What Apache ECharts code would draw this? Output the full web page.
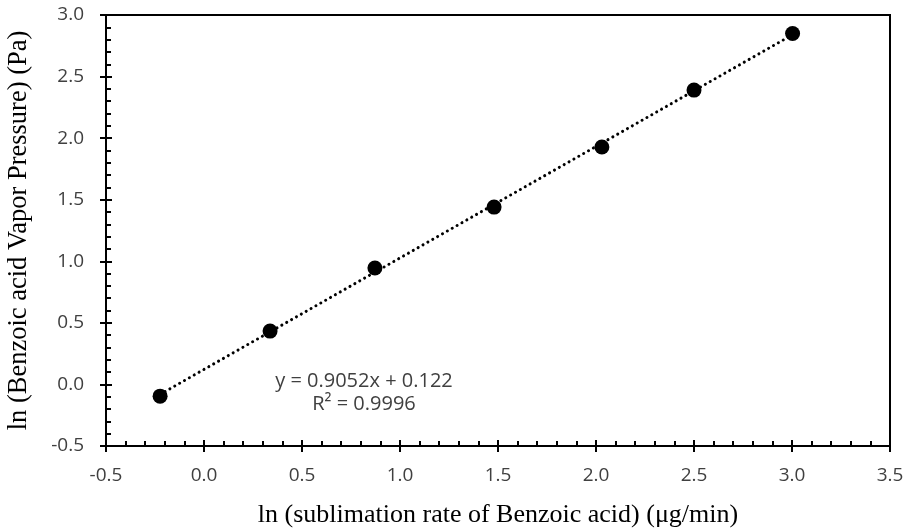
<!DOCTYPE html>
<html><head><meta charset="utf-8">
<script src="https://cdn.jsdelivr.net/npm/echarts@6/dist/echarts.min.js"></script>
<style>html,body{margin:0;padding:0;background:#fff}#c{width:907px;height:530px}</style>
</head><body><div id="c"></div>
<script>
var xValues = [-0.224, 0.337, 0.872, 1.48, 2.03, 2.50, 3.003];
var yValues = [-0.095, 0.433, 0.945, 1.44, 1.928, 2.39, 2.85];
var slope = 0.9052, intercept = 0.122;
var equationText = 'y = 0.9052x + 0.122';
var r2Text = 'R² = 0.9996';
var xTitle = 'ln (sublimation rate of Benzoic acid) (μg/min)';
var yTitle = 'ln (Benzoic acid Vapor Pressure) (Pa)';

var pts = xValues.map(function(x,i){return [x, yValues[i]];});
var xMin = Math.min.apply(null, xValues), xMax = Math.max.apply(null, xValues);
var trend = [[xMin, slope*xMin+intercept],[xMax, slope*xMax+intercept]];

function axisBase(extra){
  var o = {splitLine:{show:false},
    axisLine:{show:true, onZero:false, lineStyle:{color:'#000', width:2}}};
  for (var k in extra) o[k]=extra[k];
  return o;
}
var lbl = {formatter:function(v){return v.toFixed(1);}, fontFamily:'Open Sans', fontSize:19, color:'#404040'};
function L(m){var o={}; for (var k in lbl) o[k]=lbl[k]; o.margin=m; return o;}
var chart = echarts.init(document.getElementById('c'));
chart.setOption({
  animation:false,
  grid:{left:106, right:17, top:15, bottom:84, containLabel:false, outerBoundsMode:'none',
    show:true, borderColor:'#000', borderWidth:2},
  xAxis:[
    axisBase({type:'value', min:-0.5, max:3.5, interval:0.5, position:'bottom',
      axisTick:{show:true, length:6, lineStyle:{color:'#000', width:2}},
      axisLabel:L(20),
      name:xTitle, nameLocation:'middle', nameGap:56,
      nameTextStyle:{fontFamily:'Liberation Serif', fontSize:26, color:'#000'}}),
    axisBase({type:'value', min:-0.5, max:3.5, interval:0.5, position:'bottom', axisLabel:{show:false},
      axisTick:{show:true, inside:true, length:6, lineStyle:{color:'#000', width:2}},
      minorTick:{show:true, splitNumber:5, length:5, lineStyle:{color:'#000', width:2}}})
  ],
  yAxis:[
    axisBase({type:'value', min:-0.5, max:3.0, interval:0.5, position:'left',
      axisTick:{show:true, length:6, lineStyle:{color:'#000', width:2}},
      axisLabel:L(22),
      name:yTitle, nameLocation:'middle', nameGap:73,
      nameTextStyle:{fontFamily:'Liberation Serif', fontSize:26.5, color:'#000'}}),
    axisBase({type:'value', min:-0.5, max:3.0, interval:0.5, position:'left', axisLabel:{show:false},
      axisTick:{show:true, inside:true, length:6, lineStyle:{color:'#000', width:2}},
      minorTick:{show:true, splitNumber:5, length:5, lineStyle:{color:'#000', width:2}}})
  ],
  series:[
    {type:'line', data:trend, symbol:'none', silent:true, z:2,
      lineStyle:{color:'#000', width:3, type:[0.1,5.5], cap:'round'}},
    {type:'scatter', data:pts, symbol:'circle', symbolSize:15, z:3,
      itemStyle:{color:'#000', opacity:1}}
  ],
  graphic:[
    {type:'text', x:364, y:381, style:{text:equationText, font:'20px "Open Sans"', fill:'#404040', align:'center', verticalAlign:'middle'}},
    {type:'text', x:364, y:404, style:{text:r2Text, font:'20px "Open Sans"', fill:'#404040', align:'center', verticalAlign:'middle'}}
  ]
});
</script></body></html>
